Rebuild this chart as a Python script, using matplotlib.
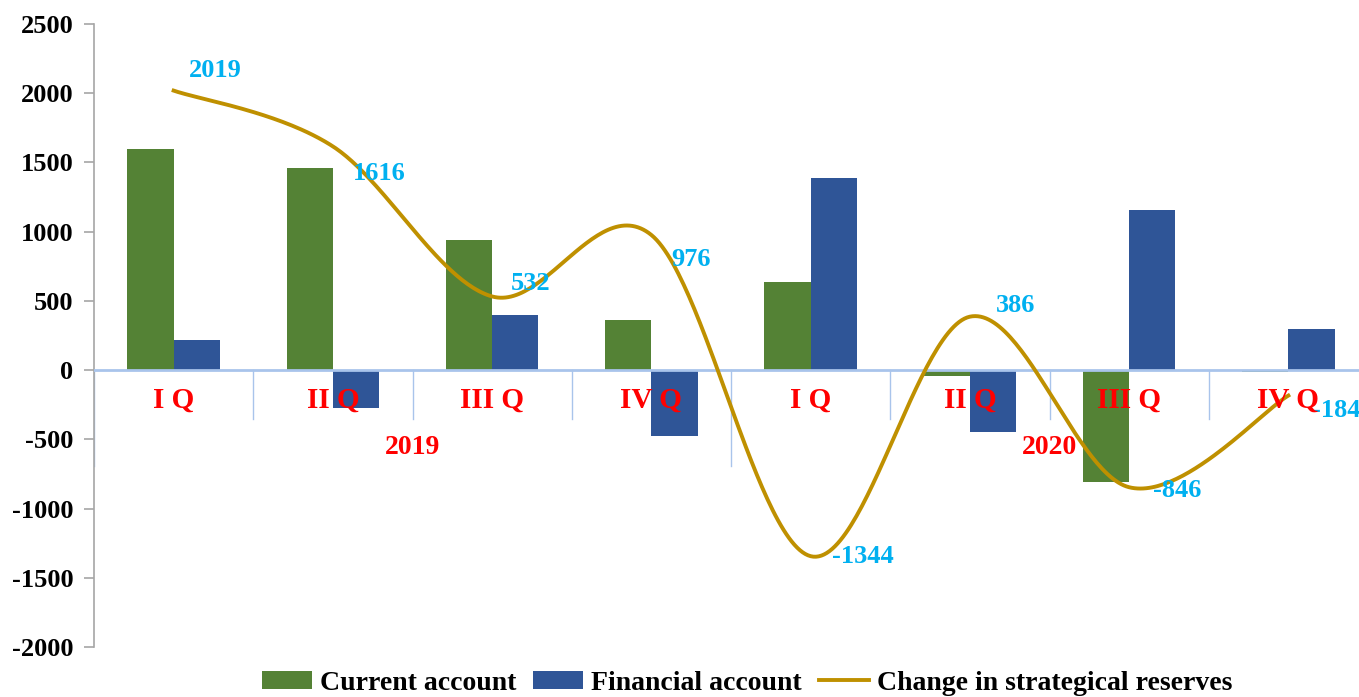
import matplotlib.pyplot as plt
import numpy as np

quarters = ["I Q", "II Q", "III Q", "IV Q", "I Q", "II Q", "III Q", "IV Q"]
years = ["2019", "2020"]
current_account = [1600, 1460, 940, 360, 640, -40, -805, -15]
financial_account = [215, -275, 400, -475, 1390, -445, 1155, 295]
reserves = [2019, 1616, 532, 976, -1344, 386, -846, -184]

# label offsets for the reserve values (pixels)
label_dx = [42, 46, 38, 40, 52, 46, 48, 48]
label_dy = [20, -27, 13, -25, 0, 11, -3, -15]

GREEN = "#548235"
BLUE = "#2F5597"
GOLD = "#BF9000"
CYAN = "#00B0F0"
RED = "#FF0000"
SEP = "#A9C4EB"

plt.rcParams['font.family'] = ['Liberation Serif', 'DejaVu Serif']
plt.rcParams['font.weight'] = 'bold'
plt.rcParams['axes.unicode_minus'] = False


def smooth(xs, ys, n=60):
    # excel-like smoothed line (bezier with catmull-rom control points)
    xs = np.asarray(xs, float)
    ys = np.asarray(ys, float)
    px = np.concatenate([[xs[0]], xs, [xs[-1]]])
    py = np.concatenate([[ys[0]], ys, [ys[-1]]])
    ox, oy = [], []
    t = np.linspace(0, 1, n)
    for i in range(1, len(px) - 2):
        p0 = np.array([px[i], py[i]])
        p3 = np.array([px[i + 1], py[i + 1]])
        c1 = p0 + (p3 - np.array([px[i - 1], py[i - 1]])) / 6
        c2 = p3 - (np.array([px[i + 2], py[i + 2]]) - p0) / 6
        b = ((1 - t) ** 3)[:, None] * p0 + (3 * (1 - t) ** 2 * t)[:, None] * c1 \
            + (3 * (1 - t) * t ** 2)[:, None] * c2 + (t ** 3)[:, None] * p3
        ox.extend(b[:, 0])
        oy.extend(b[:, 1])
    return np.array(ox), np.array(oy)


fig = plt.figure(figsize=(13.59, 6.97), dpi=100)
ax = fig.add_axes([94 / 1359, 1 - 647 / 697, 1274 / 1359, 623 / 697])

x = np.arange(len(quarters))
w = 0.29
b1 = ax.bar(x - w / 2, current_account, w, color=GREEN, zorder=2)
b2 = ax.bar(x + w / 2, financial_account, w, color=BLUE, zorder=2)

sx, sy = smooth(x, reserves)
ln, = ax.plot(sx, sy, color=GOLD, lw=2.8, zorder=4)

for xi, v, dx, dy in zip(x, reserves, label_dx, label_dy):
    ax.annotate(str(v), (xi, v), xytext=(dx * 0.72, dy * 0.72), textcoords="offset points",
                ha="center", va="center", color=CYAN, fontsize=19, fontweight="bold", zorder=5)

# category axis
ax.axhline(0, color=SEP, lw=2, zorder=3)
bounds = np.arange(len(quarters) + 1) - 0.5
for b in bounds:
    long_tick = (b - bounds[0]) % 4 == 0
    ax.plot([b, b], [0, -690 if long_tick else -350], color=SEP, lw=1, zorder=1)

for xi, q in zip(x, quarters):
    ax.text(xi, -217, q, ha="center", va="center", color=RED, fontsize=21,
            fontweight="bold", zorder=5)
for i, yr in enumerate(years):
    ax.text(4 * i + 1.5, -560, yr, ha="center", va="center", color=RED, fontsize=20,
            fontweight="bold", zorder=5)

ax.set_xlim(-0.5, 7.5)
ax.set_ylim(-2000, 2500)
ax.set_yticks(np.arange(-2000, 2501, 500))
ax.set_xticks([])
for s in ["top", "right", "bottom"]:
    ax.spines[s].set_visible(False)
ax.spines["left"].set_color("#A6A6A6")
ax.spines["left"].set_linewidth(1.2)
ax.tick_params(axis="y", colors="#A6A6A6", length=7, width=1.2, pad=8,
               labelsize=19, labelcolor="black")
for lbl in ax.get_yticklabels():
    lbl.set_fontweight("bold")

fig.legend([b1, b2, ln], ["Current account", "Financial account", "Change in strategical reserves"],
           loc="center", bbox_to_anchor=(747 / 1359, 0.02), ncol=3, frameon=False,
           fontsize=20, handlelength=1.8, handleheight=0.6, handletextpad=0.3,
           columnspacing=0.6, borderaxespad=0)

fig.savefig("out.png", dpi=100)
